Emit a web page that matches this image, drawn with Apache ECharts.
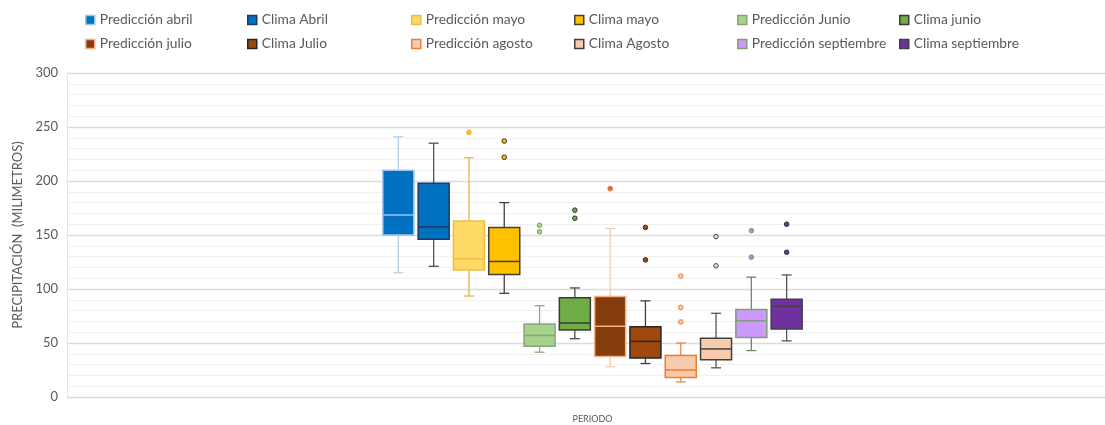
<!DOCTYPE html>
<html>
<head>
<meta charset="utf-8">
<script src="https://cdn.jsdelivr.net/npm/echarts@6/dist/echarts.min.js"></script>
<style>
html,body{margin:0;padding:0;background:#fff;}
#chart{width:1105px;height:425px;}
</style>
</head>
<body>
<div id="chart"></div>
<script>
// ---- data ----
const category = ['PERIODO'];
const seriesNames = ['Predicción abril','Clima Abril','Predicción mayo','Clima mayo','Predicción Junio','Clima junio','Predicción julio','Clima Julio','Predicción agosto','Clima Agosto','Predicción septiembre','Clima septiembre'];
const lowWhisker  = [115, 121, 93.5, 96, 41.5, 54, 28, 31, 14, 27, 43, 52];
const q1          = [150, 146, 117.5, 113.5, 47, 62, 37.5, 36, 18, 34.5, 55, 63];
const median      = [168.5, 157.5, 128, 125.5, 57, 68.5, 65.5, 51.5, 25, 44.5, 70.5, 84];
const q3          = [210, 198, 163, 157, 67.5, 92, 93, 65, 38.5, 54.5, 81, 90.5];
const highWhisker = [241, 235, 221.5, 180, 84.5, 101, 156, 89, 50, 77.5, 111, 113];
const outliers    = [[], [], [245], [237, 222], [159, 153], [173, 165.5], [193], [157, 127], [112, 83, 69.5], [148.5, 121.5], [154, 129.5], [160, 134]];
const yTicks = [0, 50, 100, 150, 200, 250, 300];

// ---- styles ----
const fills    = ['#0070C0','#0070C0','#FFD966','#FFC000','#A9D18E','#70AD47','#843C0C','#9E480E','#F8CBAD','#F8CBAD','#CC99FF','#7030A0'];
const borders  = ['#9DC3E6','#1F3864','#EDBD45','#404040','#86A875','#3A3A3A','#F4B183','#262626','#ED7D31','#404040','#7F9F70','#404040'];
const whiskers = ['#B4D0EE','#44546A','#E0B84C','#404040','#8FAA80','#505050','#F8CBAD','#404040','#E8894A','#555555','#6E8C62','#555555'];
const outFill  = ['#0070C0','#0070C0','#FFC000','#FFC000','#A9D18E','#70AD47','#E2702F','#9E480E','#F8CBAD','#F8CBAD','#B48CE0','#7030A0'];
const outStroke= ['#9DC3E6','#1F3864','#E0B84C','#303030','#70AD47','#303030','#E2702F','#303030','#ED7D31','#505050','#7F8F80','#303030'];
const SPACING = 35.3, BOXW = 31, CAPW = 10, SHIFT = 6.5;
const FONT = 'Lato, "Open Sans", sans-serif';

function makeRender(i){
  return function(params, api){
    const base = api.coord([0, 0]);
    const cx = base[0] + SHIFT + (i - 5.5) * SPACING;
    const Y = v => api.coord([0, v])[1];
    const yLow = Y(api.value(1)), yQ1 = Y(api.value(2)), yMed = Y(api.value(3)), yQ3 = Y(api.value(4)), yHigh = Y(api.value(5));
    const ws = {stroke: whiskers[i], lineWidth: 1.3};
    const children = [
      {type:'line', shape:{x1:cx, y1:yHigh, x2:cx, y2:yQ3}, style:ws},
      {type:'line', shape:{x1:cx, y1:yQ1, x2:cx, y2:yLow}, style:ws},
      {type:'line', shape:{x1:cx-CAPW/2, y1:yHigh, x2:cx+CAPW/2, y2:yHigh}, style:ws},
      {type:'line', shape:{x1:cx-CAPW/2, y1:yLow, x2:cx+CAPW/2, y2:yLow}, style:ws},
      {type:'rect', shape:{x:cx-BOXW/2, y:yQ3, width:BOXW, height:yQ1-yQ3}, style:{fill:fills[i], stroke:borders[i], lineWidth:1.5}},
      {type:'line', shape:{x1:cx-BOXW/2, y1:yMed, x2:cx+BOXW/2, y2:yMed}, style:{stroke:borders[i], lineWidth:1.5}}
    ];
    outliers[i].forEach(v => {
      children.push({type:'circle', shape:{cx:cx, cy:Y(v), r:2.3}, style:{fill:outFill[i], stroke:outStroke[i], lineWidth:1}});
    });
    return {type:'group', children};
  };
}

const series = seriesNames.map((name, i) => ({
  name,
  type: 'custom',
  coordinateSystem: 'cartesian2d',
  itemStyle: {color: fills[i], borderColor: borders[i]},
  encode: {x: 0, y: [1,2,3,4,5]},
  data: [[0, lowWhisker[i], q1[i], median[i], q3[i], highWhisker[i]]],
  renderItem: makeRender(i),
  clip: false,
  z: 3
}));

const legendLefts = [85, 247, 411, 574, 737, 899];
const legends = legendLefts.map((left, c) => ({
  orient: 'vertical',
  left: left,
  top: 12,
  padding: 0,
  itemWidth: 9,
  itemHeight: 9,
  itemGap: 8,
  selectedMode: false,
  textStyle: {fontFamily: FONT, fontSize: 13.8, color: '#595959', lineHeight: 16},
  data: [c, c + 6].map(idx => ({
    name: seriesNames[idx],
    icon: 'rect',
    itemStyle: {color: fills[idx], borderColor: borders[idx], borderWidth: 1.5}
  }))
}));

const chart = echarts.init(document.getElementById('chart'), null, {renderer: 'canvas'});
chart.setOption({
  backgroundColor: '#ffffff',
  animation: false,
  legend: legends,
  grid: {left: 67, right: 0, top: 73, bottom: 28, containLabel: false},
  xAxis: {
    type: 'category',
    data: category,
    axisLine: {show: true, lineStyle: {color: '#d9d9d9', width: 1}},
    axisTick: {show: false},
    axisLabel: {fontFamily: FONT, fontSize: 9, color: '#595959', margin: 18, padding: [0, 0, 0, 13]},
    splitLine: {show: false}
  },
  yAxis: {
    type: 'value',
    min: yTicks[0],
    max: yTicks[yTicks.length - 1],
    interval: yTicks[1] - yTicks[0],
    name: 'PRECIPITACIÓN  (MILIMETROS)',
    nameLocation: 'middle',
    nameGap: 42,
    nameTextStyle: {fontFamily: FONT, fontSize: 13, color: '#595959'},
    axisLine: {show: true, lineStyle: {color: '#e6e6e6'}},
    axisTick: {show: false},
    axisLabel: {fontFamily: FONT, fontSize: 13, color: '#595959', margin: 9},
    splitLine: {show: true, lineStyle: {color: '#dcdcdc', width: 1.3}},
    minorTick: {show: false, splitNumber: 5},
    minorSplitLine: {show: true, lineStyle: {color: '#f0f0f0', width: 1}}
  },
  series
});
</script>
</body>
</html>
